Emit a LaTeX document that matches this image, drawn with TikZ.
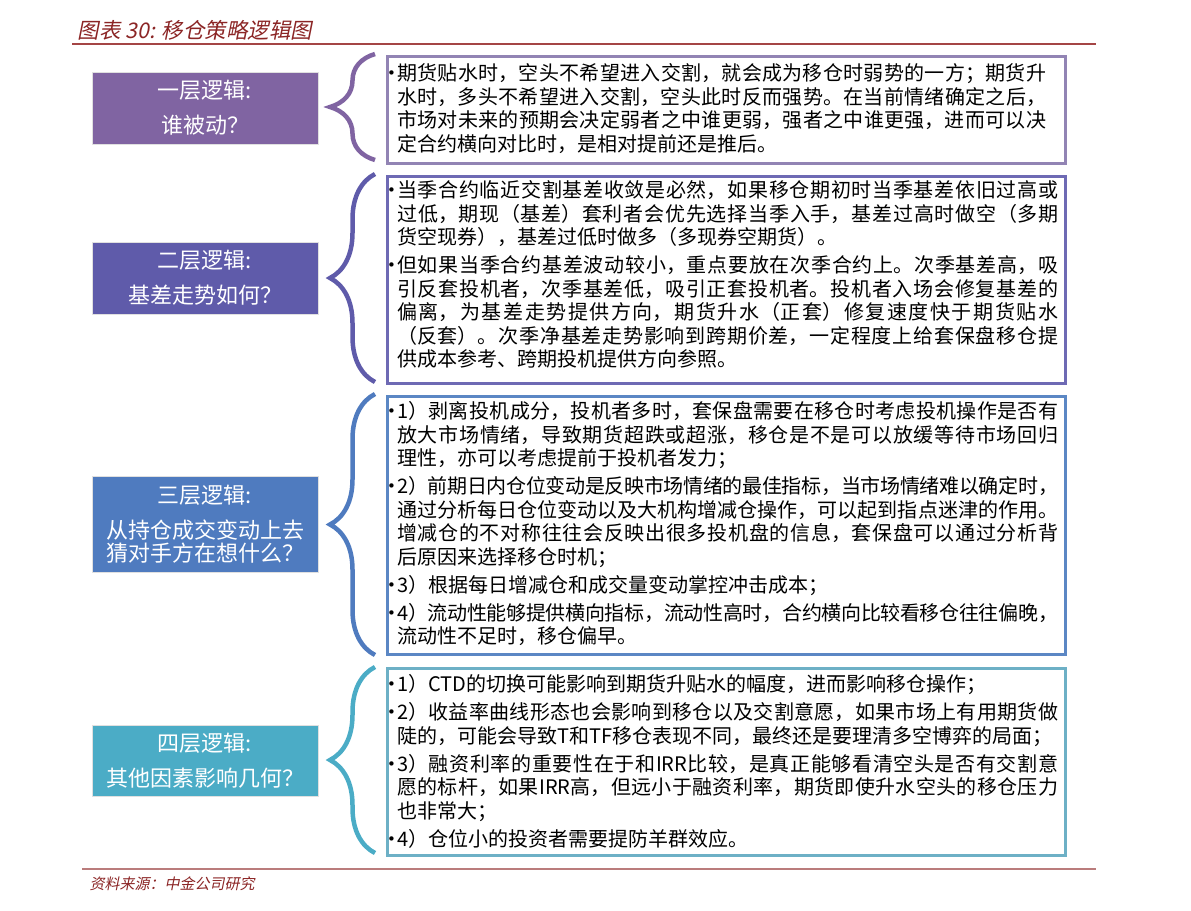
\documentclass[tikz,border=0pt]{standalone}
\usepackage{fontspec}
\setmainfont{Noto Sans CJK SC}
\newfontfamily\slantfont[FakeSlant=0.2]{Noto Sans CJK SC}
\newfontfamily\dotfont{DejaVu Sans}
\usepackage{tikz}
\usetikzlibrary{decorations.pathreplacing}
\XeTeXlinebreaklocale "zh"
\XeTeXlinebreakskip=0pt plus 3pt minus 1.5pt

\definecolor{purpleA}{HTML}{8064A2}
\definecolor{purpleB}{HTML}{5F5BAA}
\definecolor{blueC}{HTML}{4F7BBF}
\definecolor{tealD}{HTML}{4BACC6}
\definecolor{frameA}{HTML}{9284B4}
\definecolor{frameB}{HTML}{6E6AB4}
\definecolor{frameC}{HTML}{5B87C4}
\definecolor{frameD}{HTML}{6DB0C6}
\definecolor{titlered}{HTML}{8B2525}
\definecolor{ruletop}{HTML}{A44545}
\definecolor{rulebot}{HTML}{BA7C7C}

% bullet hangs in the left margin, all lines start at \leftskip
\newcommand{\itm}{\par\noindent\llap{\makebox[10pt][l]{\raisebox{1.8pt}{\dotfont\fontsize{15}{15}\selectfont •}}}}
\newenvironment{itembox}[1]{\begin{minipage}[t]{#1}\setlength{\parskip}{4.5pt}\setlength{\leftskip}{10pt}}{\end{minipage}}

\tikzset{
    lbox/.style={minimum width=226pt, inner sep=0pt, text=white, align=center,
        draw=black!12, line width=0.8pt, font=\fontsize{22}{23}\selectfont},
    rframe/.style={draw, line width=3pt, inner sep=0pt, anchor=north west, minimum width=678pt},
    rtext/.style={anchor=base west, inner sep=0pt, font=\fontsize{20}{23.5}\selectfont},
    bracepath/.style={decorate, decoration={brace, amplitude=45pt}, line width=4.5pt}
}

\begin{document}
\begin{tikzpicture}[x=1pt, y=-1pt]
    \useasboundingbox (0,0) rectangle (1191,910);

    % title and rules
    \node[anchor=west, text=titlered, font=\slantfont\fontsize{21.5}{21.5}\selectfont] (title) at (74,30) {图表 30: 移仓策略逻辑图};
    \coordinate (tl) at (72,44);
    \coordinate (tr) at (1096,44);
    \draw[ruletop, line width=2pt] (tl) -- (tr);
    \coordinate (bl) at (82,869);
    \coordinate (br) at (1096,869);
    \draw[rulebot, line width=2.5pt] (bl) -- (br);
    \node[anchor=west, text=titlered, font=\slantfont\fontsize{15}{15}\selectfont] (source) at (86,884) {资料来源：中金公司研究};

    % left boxes
    \begin{scope}[every node/.style={lbox}]
        \node[fill=purpleA, minimum height=72pt] (b1) at (205,108) {一层逻辑:\\[12pt]谁被动？};
        \node[fill=purpleB, minimum height=72pt] (b2) at (205,278) {二层逻辑:\\[12pt]基差走势如何？};
        \node[fill=blueC, minimum height=96pt] (b3) at (205,524) {三层逻辑:\\[12pt]从持仓成交变动上去\\猜对手方在想什么？};
        \node[fill=tealD, minimum height=71pt] (b4) at (205,760.5) {四层逻辑:\\[12pt]其他因素影响几何？};
    \end{scope}

    % braces
    \coordinate (u1) at (375,54);
    \coordinate (d1) at (375,160);
    \coordinate (u2) at (375,174);
    \coordinate (d2) at (375,382);
    \coordinate (u3) at (375,394);
    \coordinate (d3) at (375,655);
    \coordinate (u4) at (375,667);
    \coordinate (d4) at (375,853);
    \draw[bracepath, purpleA] (d1) -- (u1);
    \draw[bracepath, purpleB] (d2) -- (u2);
    \draw[bracepath, blueC] (d3) -- (u3);
    \draw[bracepath, tealD] (d4) -- (u4);

    % right frames
    \node[rframe, draw=frameA, minimum height=107pt] (f1) at (386,55) {};
    \node[rframe, draw=frameB, minimum height=207pt] (f2) at (386,175) {};
    \node[rframe, draw=frameC, minimum height=258pt] (f3) at (386,395) {};
    \node[rframe, draw=frameD, minimum height=187pt] (f4) at (386,667) {};

    % texts
    \node[rtext] (t1) at (387,80.5) {\begin{itembox}{659pt}
        \itm 期货贴水时，空头不希望进入交割，就会成为移仓时弱势的一方；期货升\linebreak
        水时，多头不希望进入交割，空头此时反而强势。在当前情绪确定之后，\linebreak
        市场对未来的预期会决定弱者之中谁更弱，强者之中谁更强，进而可以决\linebreak
        定合约横向对比时，是相对提前还是推后。\end{itembox}};
    \node[rtext] (t2) at (387,197.5) {\begin{itembox}{671pt}
        \itm 当季合约临近交割基差收敛是必然，如果移仓期初时当季基差依旧过高或\linebreak
        过低，期现（基差）套利者会优先选择当季入手，基差过高时做空（多期\linebreak
        货空现券），基差过低时做多（多现券空期货）。
        \itm 但如果当季合约基差波动较小，重点要放在次季合约上。次季基差高，吸\linebreak
        引反套投机者，次季基差低，吸引正套投机者。投机者入场会修复基差的\linebreak
        偏离，为基差走势提供方向，期货升水（正套）修复速度快于期货贴水\linebreak
        （反套）。次季净基差走势影响到跨期价差，一定程度上给套保盘移仓提\linebreak
        供成本参考、跨期投机提供方向参照。\end{itembox}};
    \node[rtext] (t3) at (387,418.5) {\begin{itembox}{671pt}
        \itm 1）剥离投机成分，投机者多时，套保盘需要在移仓时考虑投机操作是否有\linebreak
        放大市场情绪，导致期货超跌或超涨，移仓是不是可以放缓等待市场回归\linebreak
        理性，亦可以考虑提前于投机者发力；
        \itm 2）前期日内仓位变动是反映市场情绪的最佳指标，当市场情绪难以确定时，\linebreak
        通过分析每日仓位变动以及大机构增减仓操作，可以起到指点迷津的作用。\linebreak
        增减仓的不对称往往会反映出很多投机盘的信息，套保盘可以通过分析背\linebreak
        后原因来选择移仓时机；
        \itm 3）根据每日增减仓和成交量变动掌控冲击成本；
        \itm 4）流动性能够提供横向指标，流动性高时，合约横向比较看移仓往往偏晚，\linebreak
        流动性不足时，移仓偏早。\end{itembox}};
    \node[rtext] (t4) at (387,691.5) {\begin{itembox}{671pt}
        \itm 1）CTD的切换可能影响到期货升贴水的幅度，进而影响移仓操作；
        \itm 2）收益率曲线形态也会影响到移仓以及交割意愿，如果市场上有用期货做\linebreak
        陡的，可能会导致T和TF移仓表现不同，最终还是要理清多空博弈的局面；
        \itm 3）融资利率的重要性在于和IRR比较，是真正能够看清空头是否有交割意\linebreak
        愿的标杆，如果IRR高，但远小于融资利率，期货即使升水空头的移仓压力\linebreak
        也非常大；
        \itm 4）仓位小的投资者需要提防羊群效应。\end{itembox}};
\end{tikzpicture}
\end{document}
